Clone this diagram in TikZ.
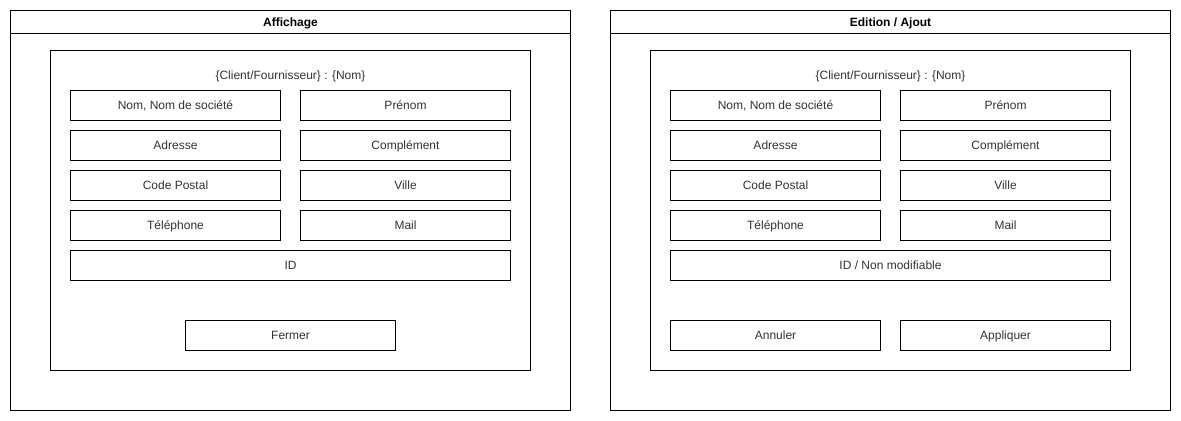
\documentclass[tikz,border=0pt]{standalone}
\usepackage{fontspec}
\setmainfont{Liberation Sans}
\definecolor{txt}{HTML}{333333}
\begin{document}
\begin{tikzpicture}[x=0.75pt,y=-0.75pt,
  panel/.style={draw=black,line width=0.75pt,fill=white},
  field/.style={draw=black,line width=0.75pt,rectangle,inner sep=0pt,outer sep=0pt,anchor=north west,font=\fontsize{9}{11}\selectfont,text=txt,text height=7pt,text depth=0.5pt},
  ttl/.style={font=\bfseries\fontsize{9}{11}\selectfont,text=black},
  lbl/.style={font=\fontsize{9}{11}\selectfont,text=txt}]
\useasboundingbox (0,0) rectangle (1181,421);
\fill[white] (0,0) rectangle (1181,421);
\foreach \ox/\nm/\tt in {0/L/{Affichage},600/R/{Edition / Ajout}}{
  \begin{scope}[xshift=\ox*0.75pt]
  \draw[panel] (10.5,10.5) rectangle (570.5,410.5);
  \draw[line width=0.75pt] (10.5,33.5) -- (570.5,33.5);
  \node[ttl] (title\nm) at (290.5,23) {\tt};
  \draw[line width=0.75pt] (50.5,50.5) rectangle (530.5,370.5);
  \node[lbl] (head\nm) at (290.5,76) {\{Client/Fournisseur\} : \{Nom\}};
  \node[field,minimum width=210*0.75pt,minimum height=30*0.75pt] (nom\nm) at (70.5,90.5) {Nom, Nom de société};
  \node[field,minimum width=210*0.75pt,minimum height=30*0.75pt] (prenom\nm) at (300.5,90.5) {Prénom};
  \node[field,minimum width=210*0.75pt,minimum height=30*0.75pt] (adr\nm) at (70.5,130.5) {Adresse};
  \node[field,minimum width=210*0.75pt,minimum height=30*0.75pt] (comp\nm) at (300.5,130.5) {Complément};
  \node[field,minimum width=210*0.75pt,minimum height=30*0.75pt] (cp\nm) at (70.5,170.5) {Code Postal};
  \node[field,minimum width=210*0.75pt,minimum height=30*0.75pt] (ville\nm) at (300.5,170.5) {Ville};
  \node[field,minimum width=210*0.75pt,minimum height=30*0.75pt] (tel\nm) at (70.5,210.5) {Téléphone};
  \node[field,minimum width=210*0.75pt,minimum height=30*0.75pt] (mail\nm) at (300.5,210.5) {Mail};
  \end{scope}
}
\node[field,minimum width=440*0.75pt,minimum height=30*0.75pt] (idL) at (70.5,250.5) {ID};
\node[field,minimum width=210*0.75pt,minimum height=30*0.75pt] (fermer) at (185.5,320.5) {Fermer};
\node[field,minimum width=440*0.75pt,minimum height=30*0.75pt] (idR) at (670.5,250.5) {ID / Non modifiable};
\node[field,minimum width=210*0.75pt,minimum height=30*0.75pt] (annuler) at (670.5,320.5) {Annuler};
\node[field,minimum width=210*0.75pt,minimum height=30*0.75pt] (appliquer) at (900.5,320.5) {Appliquer};
\end{tikzpicture}
\end{document}
